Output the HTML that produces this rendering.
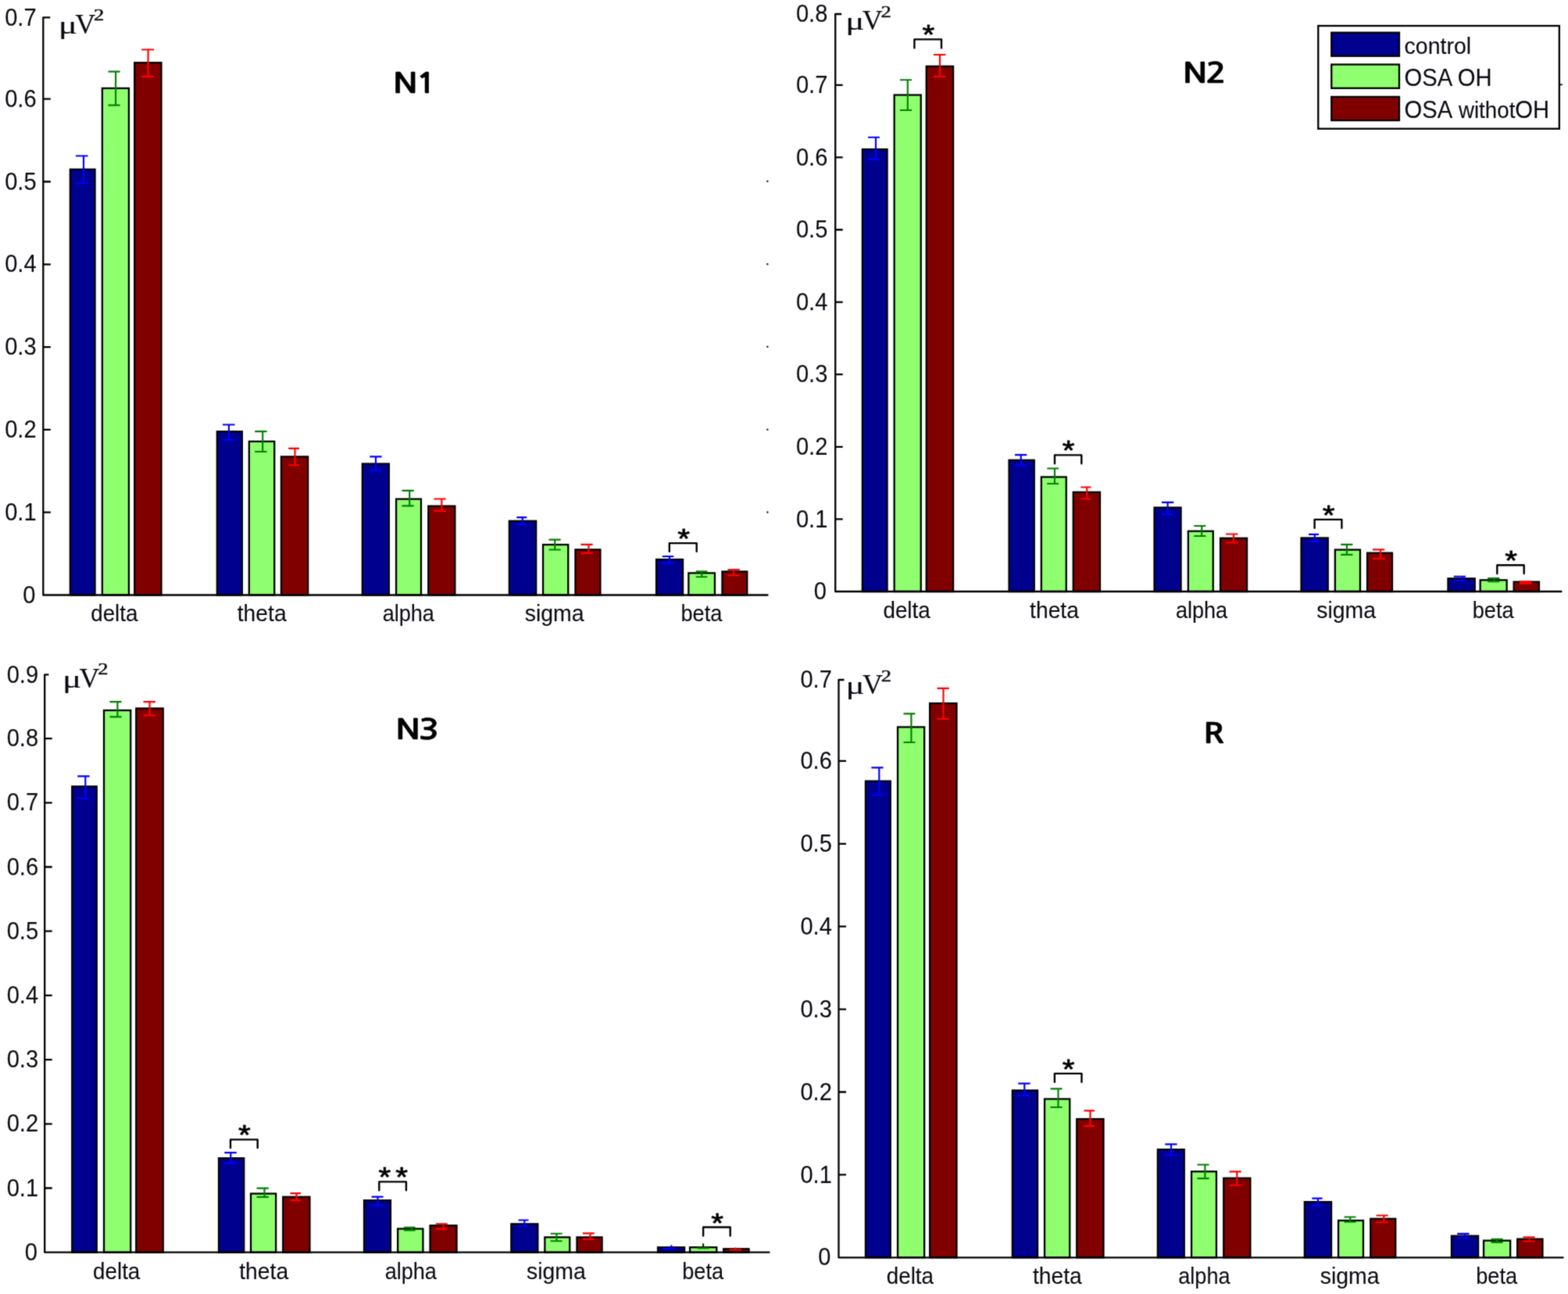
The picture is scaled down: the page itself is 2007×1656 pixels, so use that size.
<!DOCTYPE html>
<html lang="en">
<head>
<meta charset="utf-8">
<title>EEG spectral power by sleep stage</title>
<style>
html,body{margin:0;padding:0;background:#fff;}
body{width:2007px;height:1656px;overflow:hidden;}
svg{display:block;}
text{font-family:"Liberation Sans",sans-serif;fill:#0a0a12;stroke:#0a0a12;stroke-width:0.1px;}

.yt{font-size:32.2px;text-anchor:end;}
.xt{font-size:29.6px;text-anchor:middle;}
.lg{font-size:30.0px;text-anchor:start;}
.un{font-family:"Liberation Serif",serif;font-size:36.5px;text-anchor:start;}
.mu{font-size:32.5px;}
.sup{font-size:21.2px;stroke-width:0.45px;}
.cap{font-size:31.6px;}
.ti{font-family:"NanumGothic","Liberation Sans",sans-serif;font-weight:bold;font-size:34.2px;text-anchor:middle;fill:#000;stroke:#000;stroke-width:0.5px;letter-spacing:-1.8px;}
.st{font-size:40.5px;text-anchor:middle;fill:#000;stroke:#000;stroke-width:0.9px;stroke-linejoin:round;}
</style>
</head>
<body>
<svg width="2007" height="1656" viewBox="0 0 2007 1656">
<defs>
<filter id="soft" filterUnits="userSpaceOnUse" x="0" y="0" width="2007" height="1656" color-interpolation-filters="sRGB">
<feConvolveMatrix order="3" kernelMatrix="1 4 1 4 16 4 1 4 1" divisor="36" edgeMode="duplicate" preserveAlpha="false"/>
</filter>
</defs>
<g id="chart" filter="url(#soft)">
<rect width="2007" height="1656" fill="#fff"/>
<g id="panel-N1">
<rect x="89.85" y="216.75" width="31.7" height="544.75" fill="#00008f" stroke="#000" stroke-width="2.3"/>
<rect x="130.85" y="112.95" width="34.1" height="648.55" fill="#8fff70" stroke="#000" stroke-width="2.3"/>
<rect x="172.25" y="80.25" width="34.2" height="681.25" fill="#800000" stroke="#000" stroke-width="2.3"/>
<rect x="277.85" y="552.25" width="32" height="209.25" fill="#00008f" stroke="#000" stroke-width="2.3"/>
<rect x="318.85" y="564.95" width="32.4" height="196.55" fill="#8fff70" stroke="#000" stroke-width="2.3"/>
<rect x="359.95" y="584.45" width="34.2" height="177.05" fill="#800000" stroke="#000" stroke-width="2.3"/>
<rect x="463.85" y="593.55" width="34" height="167.95" fill="#00008f" stroke="#000" stroke-width="2.3"/>
<rect x="507.05" y="638.65" width="31.9" height="122.85" fill="#8fff70" stroke="#000" stroke-width="2.3"/>
<rect x="548.25" y="647.65" width="34.1" height="113.85" fill="#800000" stroke="#000" stroke-width="2.3"/>
<rect x="651.85" y="666.75" width="34.3" height="94.75" fill="#00008f" stroke="#000" stroke-width="2.3"/>
<rect x="695.05" y="697.05" width="32.2" height="64.45" fill="#8fff70" stroke="#000" stroke-width="2.3"/>
<rect x="736.45" y="703.35" width="31.9" height="58.15" fill="#800000" stroke="#000" stroke-width="2.3"/>
<rect x="840.05" y="715.95" width="34" height="45.55" fill="#00008f" stroke="#000" stroke-width="2.3"/>
<rect x="881.35" y="733.35" width="33.6" height="28.15" fill="#8fff70" stroke="#000" stroke-width="2.3"/>
<rect x="924.45" y="731.45" width="31.8" height="30.05" fill="#800000" stroke="#000" stroke-width="2.3"/>
<path d="M64.3 22.4H55.3V761.5H983.4" fill="none" stroke="#000" stroke-width="2.3" stroke-linejoin="round"/>
<path d="M55.3 655.7h9.5M55.3 549.9h9.5M55.3 444.1h9.5M55.3 338.3h9.5M55.3 232.5h9.5M55.3 126.7h9.5" fill="none" stroke="#000" stroke-width="2.3"/>
<circle cx="982.3" cy="232" r="1.3" fill="#2a2a2a"/>
<circle cx="982.3" cy="338" r="1.3" fill="#2a2a2a"/>
<circle cx="982.3" cy="443.8" r="1.3" fill="#2a2a2a"/>
<circle cx="982.3" cy="549.7" r="1.3" fill="#2a2a2a"/>
<circle cx="982.3" cy="655.5" r="1.3" fill="#2a2a2a"/>
<path d="M97 199.5H112.6M97 234.2H112.6M107 199.5V234.2" fill="none" stroke="#0000ff" stroke-width="2.15"/>
<path d="M138.5 91.6H153.6M138.5 134.6H153.6M148.1 91.6V134.6" fill="none" stroke="#008000" stroke-width="2.15"/>
<path d="M181.2 63.5H197.1M181.2 97.8H197.1M189.6 63.5V97.8" fill="none" stroke="#ff0000" stroke-width="2.15"/>
<path d="M285 543.5H300.6M285 563H300.6M293 543.5V563" fill="none" stroke="#0000ff" stroke-width="2.15"/>
<path d="M326.2 552.1H341.6M326.2 578H341.6M336.2 552.1V578" fill="none" stroke="#008000" stroke-width="2.15"/>
<path d="M369.3 573.8H383M369.3 595.2H383M377.5 573.8V595.2" fill="none" stroke="#ff0000" stroke-width="2.15"/>
<path d="M473.3 584.4H488.6M473.3 601.7H488.6M481 584.4V601.7" fill="none" stroke="#0000ff" stroke-width="2.15"/>
<path d="M514.5 627.8H529.7M514.5 647.4H529.7M524.2 627.8V647.4" fill="none" stroke="#008000" stroke-width="2.15"/>
<path d="M555.4 638.5H570.7M555.4 653.9H570.7M565.3 638.5V653.9" fill="none" stroke="#ff0000" stroke-width="2.15"/>
<path d="M661.4 662.1H674.3M661.4 671H674.3M668.8 662.1V671" fill="none" stroke="#0000ff" stroke-width="2.15"/>
<path d="M702.5 690.6H717.7M702.5 703.5H717.7M710.2 690.6V703.5" fill="none" stroke="#008000" stroke-width="2.15"/>
<path d="M743.4 696.9H758.7M743.4 707.9H758.7M753.5 696.9V707.9" fill="none" stroke="#ff0000" stroke-width="2.15"/>
<path d="M847.8 712H862.3M847.8 720.3H862.3M857 712V720.3" fill="none" stroke="#0000ff" stroke-width="2.15"/>
<path d="M890.7 731.3H905.4M890.7 738.2H905.4M898.2 731.3V738.2" fill="none" stroke="#008000" stroke-width="2.15"/>
<path d="M931.5 729.1H946.7M931.5 736.2H946.7M939 729.1V736.2" fill="none" stroke="#ff0000" stroke-width="2.15"/>
<path d="M856.8 705.7V695.1H891.7V705.7" fill="none" stroke="#000" stroke-width="2.4" stroke-linejoin="round" stroke-linecap="round"/>
<text class="st" transform="translate(0 701.35) scale(1 0.867)"><tspan x="875.2">*</tspan></text>
<text class="yt" transform="translate(45.3 771.6) scale(0.903 1)">0</text>
<text class="yt" transform="translate(46.6 665.8) scale(0.903 1)">0.1</text>
<text class="yt" transform="translate(46.6 560) scale(0.903 1)">0.2</text>
<text class="yt" transform="translate(46.6 454.2) scale(0.903 1)">0.3</text>
<text class="yt" transform="translate(46.6 348.4) scale(0.903 1)">0.4</text>
<text class="yt" transform="translate(46.6 242.6) scale(0.903 1)">0.5</text>
<text class="yt" transform="translate(46.6 136.8) scale(0.903 1)">0.6</text>
<text class="yt" transform="translate(46.6 32.5) scale(0.903 1)">0.7</text>
<text class="xt" transform="translate(146.3 795.4) scale(0.938 1)">delta</text>
<text class="xt" transform="translate(335.2 795.4) scale(0.955 1)">theta</text>
<text class="xt" transform="translate(522.75 795.4) scale(0.915 1)">alpha</text>
<text class="xt" transform="translate(709.6 795.4) scale(0.96 1)">sigma</text>
<text class="xt" transform="translate(897.85 795.4) scale(0.918 1)">beta</text>
<text class="un" y="42.6"><tspan class="mu" x="74.85" textLength="24.24" lengthAdjust="spacingAndGlyphs">μ</tspan><tspan x="96.35" textLength="25.96" lengthAdjust="spacingAndGlyphs">V</tspan><tspan class="sup" x="119.95" dy="-16.4" textLength="13.24" lengthAdjust="spacingAndGlyphs">2</tspan></text>
<text class="ti" transform="translate(529.6 118.7) scale(1.27 1)">N1</text>
</g>
<g id="panel-N2">
<rect x="1103.85" y="191.05" width="31.7" height="565.95" fill="#00008f" stroke="#000" stroke-width="2.3"/>
<rect x="1144.65" y="121.55" width="34.1" height="635.45" fill="#8fff70" stroke="#000" stroke-width="2.3"/>
<rect x="1185.75" y="84.85" width="34.3" height="672.15" fill="#800000" stroke="#000" stroke-width="2.3"/>
<rect x="1291.55" y="588.85" width="32.2" height="168.15" fill="#00008f" stroke="#000" stroke-width="2.3"/>
<rect x="1332.85" y="610.45" width="31.9" height="146.55" fill="#8fff70" stroke="#000" stroke-width="2.3"/>
<rect x="1373.75" y="629.85" width="34.2" height="127.15" fill="#800000" stroke="#000" stroke-width="2.3"/>
<rect x="1477.55" y="649.55" width="34" height="107.45" fill="#00008f" stroke="#000" stroke-width="2.3"/>
<rect x="1520.85" y="679.75" width="31.9" height="77.25" fill="#8fff70" stroke="#000" stroke-width="2.3"/>
<rect x="1562.05" y="688.75" width="34" height="68.25" fill="#800000" stroke="#000" stroke-width="2.3"/>
<rect x="1665.55" y="688.45" width="34.2" height="68.55" fill="#00008f" stroke="#000" stroke-width="2.3"/>
<rect x="1708.85" y="703.55" width="32.1" height="53.45" fill="#8fff70" stroke="#000" stroke-width="2.3"/>
<rect x="1750.05" y="707.65" width="31.9" height="49.35" fill="#800000" stroke="#000" stroke-width="2.3"/>
<rect x="1853.45" y="740.35" width="34.3" height="16.65" fill="#00008f" stroke="#000" stroke-width="2.3"/>
<rect x="1894.65" y="742.35" width="34" height="14.65" fill="#8fff70" stroke="#000" stroke-width="2.3"/>
<rect x="1937.65" y="744.65" width="32.3" height="12.35" fill="#800000" stroke="#000" stroke-width="2.3"/>
<path d="M1077.2 18H1069.2V757H1999.3" fill="none" stroke="#000" stroke-width="2.3" stroke-linejoin="round"/>
<path d="M1069.2 664.4h9.5M1069.2 571.8h9.5M1069.2 479.2h9.5M1069.2 386.6h9.5M1069.2 294h9.5M1069.2 201.4h9.5M1069.2 108.8h9.5" fill="none" stroke="#000" stroke-width="2.3"/>
<path d="M1997 108.3H1999.9" fill="none" stroke="#222" stroke-width="2"/>
<path d="M1111 175.7H1126M1111 203.8H1126M1121 175.7V203.8" fill="none" stroke="#0000ff" stroke-width="2.15"/>
<path d="M1151.9 102.2H1167.1M1151.9 141H1167.1M1161.8 102.2V141" fill="none" stroke="#008000" stroke-width="2.15"/>
<path d="M1195 70H1210.5M1195 97.9H1210.5M1203 70V97.9" fill="none" stroke="#ff0000" stroke-width="2.15"/>
<path d="M1299 582.1H1314.3M1299 595.3H1314.3M1306.8 582.1V595.3" fill="none" stroke="#0000ff" stroke-width="2.15"/>
<path d="M1340.2 599.5H1355.1M1340.2 619H1355.1M1350 599.5V619" fill="none" stroke="#008000" stroke-width="2.15"/>
<path d="M1383.3 623.5H1396.5M1383.3 638.5H1396.5M1391.3 623.5V638.5" fill="none" stroke="#ff0000" stroke-width="2.15"/>
<path d="M1487 642.9H1502.3M1487 658.1H1502.3M1494.6 642.9V658.1" fill="none" stroke="#0000ff" stroke-width="2.15"/>
<path d="M1528.2 673H1543.4M1528.2 686H1543.4M1538.2 673V686" fill="none" stroke="#008000" stroke-width="2.15"/>
<path d="M1569 683.5H1584.5M1569 694.5H1584.5M1579 683.5V694.5" fill="none" stroke="#ff0000" stroke-width="2.15"/>
<path d="M1675 683.8H1688M1675 692.6H1688M1682.8 683.8V692.6" fill="none" stroke="#0000ff" stroke-width="2.15"/>
<path d="M1716.2 696.8H1731.4M1716.2 709.9H1731.4M1723.9 696.8V709.9" fill="none" stroke="#008000" stroke-width="2.15"/>
<path d="M1757 703.4H1772.3M1757 714.7H1772.3M1767 703.4V714.7" fill="none" stroke="#ff0000" stroke-width="2.15"/>
<path d="M1860.8 737.7H1876M1860.8 742.7H1876M1871.8 737.7V742.7" fill="none" stroke="#0000ff" stroke-width="2.15"/>
<path d="M1904.2 740H1919.4M1904.2 744.2H1919.4M1912.8 740V744.2" fill="none" stroke="#008000" stroke-width="2.15"/>
<path d="M1945 744.4H1960.5M1945 746.6H1960.5M1953.5 744.4V746.6" fill="none" stroke="#ff0000" stroke-width="2.15"/>
<path d="M1170.4 61.4V50.4H1205V61.4" fill="none" stroke="#000" stroke-width="2.4" stroke-linejoin="round" stroke-linecap="round"/>
<text class="st" transform="translate(0 56.45) scale(1 0.867)"><tspan x="1188.5">*</tspan></text>
<path d="M1350 593.2V582.4H1384.3V593.2" fill="none" stroke="#000" stroke-width="2.4" stroke-linejoin="round" stroke-linecap="round"/>
<text class="st" transform="translate(0 588.35) scale(1 0.867)"><tspan x="1367.7">*</tspan></text>
<path d="M1682.6 675.7V664.9H1717.4V675.7" fill="none" stroke="#000" stroke-width="2.4" stroke-linejoin="round" stroke-linecap="round"/>
<text class="st" transform="translate(0 670.85) scale(1 0.867)"><tspan x="1700.6">*</tspan></text>
<path d="M1916.3 734.1V723.3H1950.7V734.1" fill="none" stroke="#000" stroke-width="2.4" stroke-linejoin="round" stroke-linecap="round"/>
<text class="st" transform="translate(0 729.15) scale(1 0.867)"><tspan x="1934.1">*</tspan></text>
<text class="yt" transform="translate(1058 767.1) scale(0.903 1)">0</text>
<text class="yt" transform="translate(1059.3 674.5) scale(0.903 1)">0.1</text>
<text class="yt" transform="translate(1059.3 581.9) scale(0.903 1)">0.2</text>
<text class="yt" transform="translate(1059.3 489.3) scale(0.903 1)">0.3</text>
<text class="yt" transform="translate(1059.3 396.7) scale(0.903 1)">0.4</text>
<text class="yt" transform="translate(1059.3 304.1) scale(0.903 1)">0.5</text>
<text class="yt" transform="translate(1059.3 211.5) scale(0.903 1)">0.6</text>
<text class="yt" transform="translate(1059.3 118.9) scale(0.903 1)">0.7</text>
<text class="yt" transform="translate(1059.3 28.1) scale(0.903 1)">0.8</text>
<text class="xt" transform="translate(1160.6 791) scale(0.938 1)">delta</text>
<text class="xt" transform="translate(1349.5 791) scale(0.955 1)">theta</text>
<text class="xt" transform="translate(1538 791) scale(0.915 1)">alpha</text>
<text class="xt" transform="translate(1723.15 791) scale(0.96 1)">sigma</text>
<text class="xt" transform="translate(1911.2 791) scale(0.918 1)">beta</text>
<text class="un" y="38.3"><tspan class="mu" x="1082.3" textLength="24.24" lengthAdjust="spacingAndGlyphs">μ</tspan><tspan x="1103.8" textLength="25.96" lengthAdjust="spacingAndGlyphs">V</tspan><tspan class="sup" x="1127.4" dy="-16.4" textLength="13.24" lengthAdjust="spacingAndGlyphs">2</tspan></text>
<text class="ti" transform="translate(1540.5 105.9) scale(1.27 1)">N2</text>
</g>
<g id="panel-N3">
<rect x="92.25" y="1006.45" width="31.5" height="596.25" fill="#00008f" stroke="#000" stroke-width="2.3"/>
<rect x="133.05" y="909.05" width="34.2" height="693.65" fill="#8fff70" stroke="#000" stroke-width="2.3"/>
<rect x="174.25" y="906.55" width="34.5" height="696.15" fill="#800000" stroke="#000" stroke-width="2.3"/>
<rect x="280.05" y="1482.15" width="32.2" height="120.55" fill="#00008f" stroke="#000" stroke-width="2.3"/>
<rect x="321.05" y="1527.55" width="32.1" height="75.15" fill="#8fff70" stroke="#000" stroke-width="2.3"/>
<rect x="362.25" y="1531.75" width="34.2" height="70.95" fill="#800000" stroke="#000" stroke-width="2.3"/>
<rect x="466.05" y="1536.15" width="33.9" height="66.55" fill="#00008f" stroke="#000" stroke-width="2.3"/>
<rect x="509.15" y="1572.55" width="32.3" height="30.15" fill="#8fff70" stroke="#000" stroke-width="2.3"/>
<rect x="550.55" y="1568.35" width="34" height="34.35" fill="#800000" stroke="#000" stroke-width="2.3"/>
<rect x="654.35" y="1566.35" width="34" height="36.35" fill="#00008f" stroke="#000" stroke-width="2.3"/>
<rect x="697.35" y="1583.35" width="31.9" height="19.35" fill="#8fff70" stroke="#000" stroke-width="2.3"/>
<rect x="738.45" y="1583.35" width="32.1" height="19.35" fill="#800000" stroke="#000" stroke-width="2.3"/>
<rect x="842.05" y="1596.25" width="34" height="6.45" fill="#00008f" stroke="#000" stroke-width="2.3"/>
<rect x="883.05" y="1596.25" width="34.2" height="6.45" fill="#8fff70" stroke="#000" stroke-width="2.3"/>
<rect x="926.25" y="1598.25" width="32.3" height="4.45" fill="#800000" stroke="#000" stroke-width="2.3"/>
<path d="M62.4 863.4H57.2V1602.7H985.4" fill="none" stroke="#000" stroke-width="2.3" stroke-linejoin="round"/>
<path d="M57.2 1520.5h9.5M57.2 1438.3h9.5M57.2 1356.1h9.5M57.2 1273.9h9.5M57.2 1191.7h9.5M57.2 1109.5h9.5M57.2 1027.3h9.5M57.2 945.1h9.5" fill="none" stroke="#000" stroke-width="2.3"/>
<path d="M900.1 1591.3V1595" fill="none" stroke="#111" stroke-width="2"/>
<path d="M99.3 993.4H114.6M99.3 1021.5H114.6M109.3 993.4V1021.5" fill="none" stroke="#0000ff" stroke-width="2.15"/>
<path d="M140.5 898.1H155.6M140.5 917.3H155.6M150.4 898.1V917.3" fill="none" stroke="#008000" stroke-width="2.15"/>
<path d="M183.5 898.1H199M183.5 915.6H199M191.5 898.1V915.6" fill="none" stroke="#ff0000" stroke-width="2.15"/>
<path d="M287.3 1475.1H302.8M287.3 1488.6H302.8M295.3 1475.1V1488.6" fill="none" stroke="#0000ff" stroke-width="2.15"/>
<path d="M328.5 1520.6H343.8M328.5 1531.8H343.8M338.5 1520.6V1531.8" fill="none" stroke="#008000" stroke-width="2.15"/>
<path d="M371.5 1527.1H385M371.5 1536.1H385M379.5 1527.1V1536.1" fill="none" stroke="#ff0000" stroke-width="2.15"/>
<path d="M475.6 1531.6H490.6M475.6 1542.7H490.6M483.5 1531.6V1542.7" fill="none" stroke="#0000ff" stroke-width="2.15"/>
<path d="M516.9 1570.8H531.6M516.9 1574.4H531.6M526.7 1570.8V1574.4" fill="none" stroke="#008000" stroke-width="2.15"/>
<path d="M557.8 1566.2H572.7M557.8 1572.6H572.7M567.5 1566.2V1572.6" fill="none" stroke="#ff0000" stroke-width="2.15"/>
<path d="M663.6 1561.5H676.6M663.6 1568.7H676.6M671.3 1561.5V1568.7" fill="none" stroke="#0000ff" stroke-width="2.15"/>
<path d="M704.7 1578.7H719.6M704.7 1588.2H719.6M712.5 1578.7V1588.2" fill="none" stroke="#008000" stroke-width="2.15"/>
<path d="M745.8 1578.4H760.7M745.8 1585.9H760.7M755.5 1578.4V1585.9" fill="none" stroke="#ff0000" stroke-width="2.15"/>
<path d="M848.8 1597.6H864.8M859.3 1593.4V1598" fill="none" stroke="#0000ff" stroke-width="2.15"/>
<path d="M892.7 1597.4H907.6" fill="none" stroke="#008000" stroke-width="2.15"/>
<path d="M933.5 1599.2H949M941.3 1596.6V1599.6" fill="none" stroke="#ff0000" stroke-width="2.15"/>
<path d="M295 1468.9V1458.4H329.7V1468.9" fill="none" stroke="#000" stroke-width="2.4" stroke-linejoin="round" stroke-linecap="round"/>
<text class="st" transform="translate(0 1464.15) scale(1 0.867)"><tspan x="313">*</tspan></text>
<path d="M485.3 1523.2V1512.4H519.9V1523.2" fill="none" stroke="#000" stroke-width="2.4" stroke-linejoin="round" stroke-linecap="round"/>
<text class="st" transform="translate(0 1518.35) scale(1 0.867)"><tspan x="492.3">*</tspan><tspan x="514.2">*</tspan></text>
<path d="M900.1 1581.6V1570.5H934.7V1581.6" fill="none" stroke="#000" stroke-width="2.4" stroke-linejoin="round" stroke-linecap="round"/>
<text class="st" transform="translate(0 1576.75) scale(1 0.867)"><tspan x="918.1">*</tspan></text>
<text class="yt" transform="translate(47.8 1612.8) scale(0.903 1)">0</text>
<text class="yt" transform="translate(49.1 1530.6) scale(0.903 1)">0.1</text>
<text class="yt" transform="translate(49.1 1448.4) scale(0.903 1)">0.2</text>
<text class="yt" transform="translate(49.1 1366.2) scale(0.903 1)">0.3</text>
<text class="yt" transform="translate(49.1 1284) scale(0.903 1)">0.4</text>
<text class="yt" transform="translate(49.1 1201.8) scale(0.903 1)">0.5</text>
<text class="yt" transform="translate(49.1 1119.6) scale(0.903 1)">0.6</text>
<text class="yt" transform="translate(49.1 1037.4) scale(0.903 1)">0.7</text>
<text class="yt" transform="translate(49.1 955.2) scale(0.903 1)">0.8</text>
<text class="yt" transform="translate(49.1 873.5) scale(0.903 1)">0.9</text>
<text class="xt" transform="translate(149.2 1636.8) scale(0.938 1)">delta</text>
<text class="xt" transform="translate(337.7 1636.8) scale(0.955 1)">theta</text>
<text class="xt" transform="translate(525.8 1636.8) scale(0.915 1)">alpha</text>
<text class="xt" transform="translate(711.9 1636.8) scale(0.96 1)">sigma</text>
<text class="xt" transform="translate(899.65 1636.8) scale(0.918 1)">beta</text>
<text class="un" y="879.7"><tspan class="mu" x="80.1" textLength="24.24" lengthAdjust="spacingAndGlyphs">μ</tspan><tspan x="101.6" textLength="25.96" lengthAdjust="spacingAndGlyphs">V</tspan><tspan class="sup" x="125.2" dy="-16.4" textLength="13.24" lengthAdjust="spacingAndGlyphs">2</tspan></text>
<text class="ti" transform="translate(533 946.4) scale(1.27 1)">N3</text>
</g>
<g id="panel-R">
<rect x="1107.95" y="999.65" width="31.8" height="609.65" fill="#00008f" stroke="#000" stroke-width="2.3"/>
<rect x="1149.05" y="930.45" width="34.1" height="678.85" fill="#8fff70" stroke="#000" stroke-width="2.3"/>
<rect x="1190.15" y="900.05" width="34.3" height="709.25" fill="#800000" stroke="#000" stroke-width="2.3"/>
<rect x="1295.85" y="1395.45" width="32.2" height="213.85" fill="#00008f" stroke="#000" stroke-width="2.3"/>
<rect x="1337.05" y="1406.45" width="32.2" height="202.85" fill="#8fff70" stroke="#000" stroke-width="2.3"/>
<rect x="1378.25" y="1432.05" width="34.2" height="177.25" fill="#800000" stroke="#000" stroke-width="2.3"/>
<rect x="1481.85" y="1471.05" width="33.9" height="138.25" fill="#00008f" stroke="#000" stroke-width="2.3"/>
<rect x="1525.05" y="1499.25" width="31.9" height="110.05" fill="#8fff70" stroke="#000" stroke-width="2.3"/>
<rect x="1566.25" y="1507.75" width="34.1" height="101.55" fill="#800000" stroke="#000" stroke-width="2.3"/>
<rect x="1669.85" y="1538.15" width="34.2" height="71.15" fill="#00008f" stroke="#000" stroke-width="2.3"/>
<rect x="1713.05" y="1561.95" width="31.9" height="47.35" fill="#8fff70" stroke="#000" stroke-width="2.3"/>
<rect x="1754.25" y="1559.75" width="32" height="49.55" fill="#800000" stroke="#000" stroke-width="2.3"/>
<rect x="1857.95" y="1581.65" width="34.1" height="27.65" fill="#00008f" stroke="#000" stroke-width="2.3"/>
<rect x="1899.05" y="1587.65" width="34.1" height="21.65" fill="#8fff70" stroke="#000" stroke-width="2.3"/>
<rect x="1942.15" y="1585.65" width="32.3" height="23.65" fill="#800000" stroke="#000" stroke-width="2.3"/>
<path d="M1080.5 870H1073.5V1609.3H2001.5" fill="none" stroke="#000" stroke-width="2.3" stroke-linejoin="round"/>
<path d="M1073.5 1503.4h9.5M1073.5 1397.5h9.5M1073.5 1291.6h9.5M1073.5 1185.7h9.5M1073.5 1079.8h9.5M1073.5 973.9h9.5" fill="none" stroke="#000" stroke-width="2.3"/>
<path d="M1115.3 982.4H1130.6M1115.3 1017.3H1130.6M1125.3 982.4V1017.3" fill="none" stroke="#0000ff" stroke-width="2.15"/>
<path d="M1156.5 913.3H1171.4M1156.5 950H1171.4M1166.4 913.3V950" fill="none" stroke="#008000" stroke-width="2.15"/>
<path d="M1199.5 880.9H1214.8M1199.5 920H1214.8M1207.5 880.9V920" fill="none" stroke="#ff0000" stroke-width="2.15"/>
<path d="M1303.3 1386.6H1318.6M1303.3 1402H1318.6M1311.3 1386.6V1402" fill="none" stroke="#0000ff" stroke-width="2.15"/>
<path d="M1344.5 1393.3H1359.6M1344.5 1417H1359.6M1354.5 1393.3V1417" fill="none" stroke="#008000" stroke-width="2.15"/>
<path d="M1387.5 1421.4H1401M1387.5 1441.1H1401M1395.5 1421.4V1441.1" fill="none" stroke="#ff0000" stroke-width="2.15"/>
<path d="M1491.3 1464.4H1506.6M1491.3 1477.9H1506.6M1499 1464.4V1477.9" fill="none" stroke="#0000ff" stroke-width="2.15"/>
<path d="M1532.5 1490.5H1547.6M1532.5 1508.1H1547.6M1542.4 1490.5V1508.1" fill="none" stroke="#008000" stroke-width="2.15"/>
<path d="M1573.6 1499.3H1588.7M1573.6 1516.7H1588.7M1583.3 1499.3V1516.7" fill="none" stroke="#ff0000" stroke-width="2.15"/>
<path d="M1679.3 1533.6H1692.6M1679.3 1542.3H1692.6M1687 1533.6V1542.3" fill="none" stroke="#0000ff" stroke-width="2.15"/>
<path d="M1720.5 1557.5H1735.4M1720.5 1563.7H1735.4M1728.2 1557.5V1563.7" fill="none" stroke="#008000" stroke-width="2.15"/>
<path d="M1761.5 1555.5H1776.7M1761.5 1564.2H1776.7M1771.3 1555.5V1564.2" fill="none" stroke="#ff0000" stroke-width="2.15"/>
<path d="M1865.3 1578.9H1880.5M1865.3 1583.9H1880.5M1875.1 1578.9V1583.9" fill="none" stroke="#0000ff" stroke-width="2.15"/>
<path d="M1908.6 1585.7H1923.6M1908.6 1589.9H1923.6M1916.1 1585.7V1589.9" fill="none" stroke="#008000" stroke-width="2.15"/>
<path d="M1949.5 1583.2H1964.6M1949.5 1588.5H1964.6M1957.3 1583.2V1588.5" fill="none" stroke="#ff0000" stroke-width="2.15"/>
<path d="M1349.9 1384.7V1373.9H1384.5V1384.7" fill="none" stroke="#000" stroke-width="2.4" stroke-linejoin="round" stroke-linecap="round"/>
<text class="st" transform="translate(0 1379.85) scale(1 0.867)"><tspan x="1367.6">*</tspan></text>
<text class="yt" transform="translate(1063.5 1619.4) scale(0.903 1)">0</text>
<text class="yt" transform="translate(1064.8 1513.5) scale(0.903 1)">0.1</text>
<text class="yt" transform="translate(1064.8 1407.6) scale(0.903 1)">0.2</text>
<text class="yt" transform="translate(1064.8 1301.7) scale(0.903 1)">0.3</text>
<text class="yt" transform="translate(1064.8 1195.8) scale(0.903 1)">0.4</text>
<text class="yt" transform="translate(1064.8 1089.9) scale(0.903 1)">0.5</text>
<text class="yt" transform="translate(1064.8 984) scale(0.903 1)">0.6</text>
<text class="yt" transform="translate(1064.8 880.1) scale(0.903 1)">0.7</text>
<text class="xt" transform="translate(1164.9 1643) scale(0.938 1)">delta</text>
<text class="xt" transform="translate(1353.4 1643) scale(0.955 1)">theta</text>
<text class="xt" transform="translate(1541.4 1643) scale(0.915 1)">alpha</text>
<text class="xt" transform="translate(1727.65 1643) scale(0.96 1)">sigma</text>
<text class="xt" transform="translate(1915.6 1643) scale(0.918 1)">beta</text>
<text class="un" y="888.1"><tspan class="mu" x="1082.6" textLength="24.24" lengthAdjust="spacingAndGlyphs">μ</tspan><tspan x="1104.1" textLength="25.96" lengthAdjust="spacingAndGlyphs">V</tspan><tspan class="sup" x="1127.7" dy="-16.4" textLength="13.24" lengthAdjust="spacingAndGlyphs">2</tspan></text>
<text class="ti" transform="translate(1552.3 950.9) scale(1.27 1)">R</text>
</g>
<g id="legend">
<rect x="1687.25" y="33.05" width="308.6" height="131.7" fill="#fff" stroke="#000" stroke-width="2.3"/>
<rect x="1704.25" y="41.75" width="86.7" height="30" fill="#00008f" stroke="#000" stroke-width="2.3"/>
<text class="lg" transform="translate(1797.6 68.9) scale(0.95 1)">control</text>
<rect x="1704.25" y="82.55" width="86.7" height="30.3" fill="#8fff70" stroke="#000" stroke-width="2.3"/>
<text class="lg" transform="translate(1797.6 110.1) scale(0.925 1)"><tspan class="cap">OSA OH</tspan></text>
<rect x="1704.25" y="123.95" width="86.7" height="30.1" fill="#800000" stroke="#000" stroke-width="2.3"/>
<text class="lg" transform="translate(1797.6 151.2) scale(0.924 1)"><tspan class="cap">OSA</tspan> withot<tspan class="cap">OH</tspan></text>
</g>
</g>
</svg>
</body>
</html>
